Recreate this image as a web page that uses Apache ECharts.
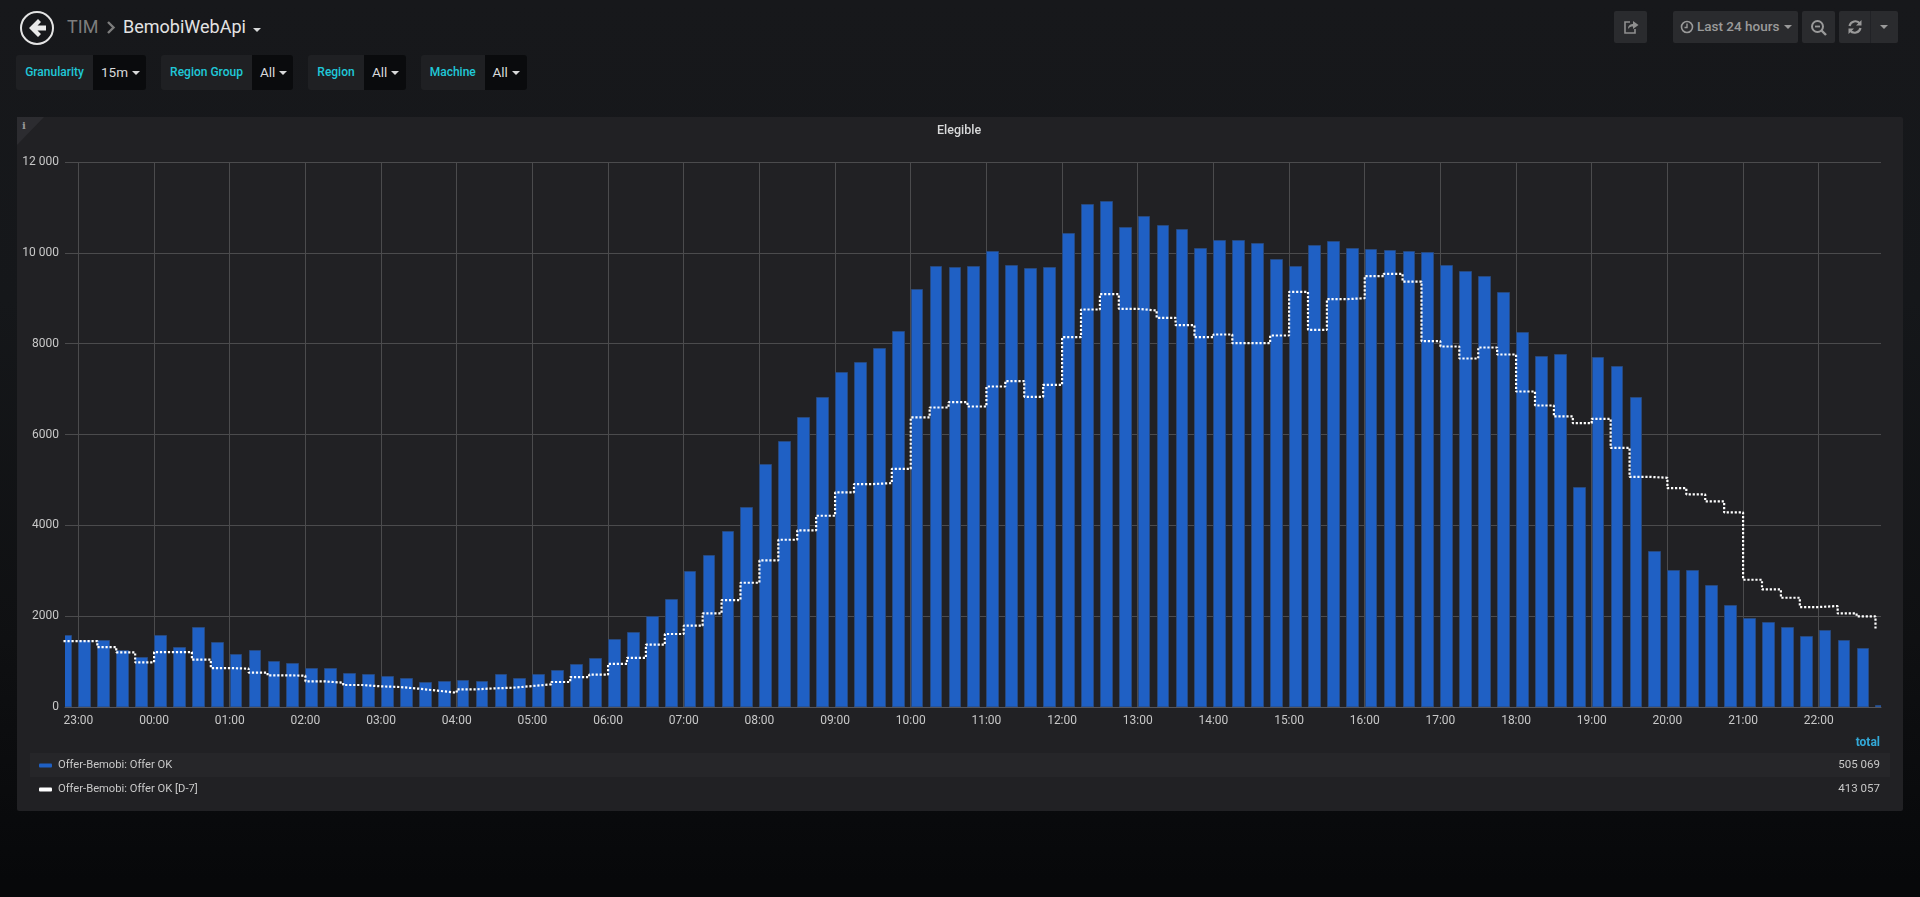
<!DOCTYPE html>
<html>
<head>
<meta charset="utf-8">
<title>Elegible</title>
<script src="https://cdn.jsdelivr.net/npm/echarts@6/dist/echarts.min.js"></script>
<style>
html,body{margin:0;padding:0;width:1920px;height:897px;overflow:hidden;font-family:Roboto,sans-serif;
background:linear-gradient(180deg,#17181b 0,#15171a 300px,#0f1012 640px,#07080a 880px);}
.abs{position:absolute;box-sizing:border-box;white-space:nowrap;}
#panel{left:17px;top:117px;width:1886px;height:694px;background:#212124;border-radius:2px;}
#corner{left:17px;top:117px;width:27px;height:28px;background:#2c2c30;clip-path:polygon(0 0,100% 0,0 100%);}
#info{left:22px;top:120px;width:8px;font:bold 10px "DejaVu Serif",serif;color:#9a9a9a;}
#stripe{left:30px;top:753px;width:1860px;height:24px;background:#262629;}
#chart{left:0;top:0;width:1920px;height:897px;}
.crumb{font-size:18px;top:15px;line-height:24px;}
.lab{top:55px;height:34.5px;background:#1f2023;color:#1fc8d8;font-weight:500;font-size:12px;line-height:34px;text-align:center;border-radius:3px 0 0 3px;}
.val{top:55px;height:34.5px;background:#0a0b0d;color:#d8d9da;font-size:13.5px;line-height:35px;padding-left:8px;border-radius:0 3px 3px 0;}
.caret{display:inline-block;width:0;height:0;border-left:4px solid transparent;border-right:4px solid transparent;border-top:4px solid #d8d9da;margin-left:4px;vertical-align:2px;}
.btn{top:11px;height:32px;background:#2a2b2e;border-radius:2px;color:#9a9a9a;}
.btn svg{position:absolute;}
</style>
</head>
<body>
<div class="abs" id="panel"></div>
<div class="abs" id="corner"></div>
<div class="abs" id="info">i</div>
<div class="abs" id="stripe"></div>

<svg class="abs" style="left:18px;top:9px" width="38" height="38" viewBox="0 0 38 38">
  <circle cx="19" cy="19" r="16" fill="none" stroke="#e4e4e4" stroke-width="2"/>
  <path d="M20 10 L11 19 L20 28 L23 25 L19.5 21.5 L28 21.5 L28 16.5 L19.5 16.5 L23 13 Z" fill="#e9e9e9"/>
</svg>
<div class="abs crumb" style="left:67px;color:#7d7d7d">TIM</div>
<svg class="abs" style="left:106px;top:20px" width="10" height="15" viewBox="0 0 10 15"><path d="M2 2 L7.5 7.5 L2 13" fill="none" stroke="#7d7d7d" stroke-width="2.4"/></svg>
<div class="abs crumb" style="left:123px;color:#e3e3e3">BemobiWebApi</div>
<div class="abs" style="left:253px;top:28px;width:0;height:0;border-left:4px solid transparent;border-right:4px solid transparent;border-top:4px solid #d8d9da"></div>

<div class="abs lab" style="left:16px;width:77px">Granularity</div>
<div class="abs val" style="left:93px;width:52.5px">15m<span class="caret"></span></div>
<div class="abs lab" style="left:161px;width:91px">Region Group</div>
<div class="abs val" style="left:252px;width:40.5px">All<span class="caret"></span></div>
<div class="abs lab" style="left:308px;width:56px">Region</div>
<div class="abs val" style="left:364px;width:41.5px">All<span class="caret"></span></div>
<div class="abs lab" style="left:421px;width:63.5px">Machine</div>
<div class="abs val" style="left:484.5px;width:42px">All<span class="caret"></span></div>

<div class="abs btn" style="left:1614px;width:33px">
  <svg style="left:8px;top:7px" width="18" height="18" viewBox="0 0 18 18"><path d="M8 4 H3 V15 H13 V11" fill="none" stroke="#8f8f8f" stroke-width="1.6"/><path d="M6 11 C6 7 9 6 11 6 V3 L16.500 7 L11 11 V8.500 C9 8.500 7.500 9 6 11 Z" fill="#8f8f8f"/></svg>
</div>
<div class="abs btn" style="left:1673px;width:125px;font-size:13.5px;font-weight:500;line-height:31px;padding-left:24px">
  <svg style="left:7px;top:9px" width="14" height="14" viewBox="0 0 14 14"><circle cx="7" cy="7" r="5.500" fill="none" stroke="#9a9a9a" stroke-width="1.600"/><path d="M7 3.500 V7.500 H4.500" fill="none" stroke="#9a9a9a" stroke-width="1.400"/></svg>
  Last 24 hours<span class="caret" style="border-top-color:#9a9a9a;margin-left:5px"></span>
</div>
<div class="abs btn" style="left:1802px;width:33px">
  <svg style="left:8px;top:8px" width="18" height="18" viewBox="0 0 18 18"><circle cx="7.500" cy="7.500" r="5.500" fill="none" stroke="#9a9a9a" stroke-width="2"/><path d="M11.500 11.500 L16 16" stroke="#9a9a9a" stroke-width="2.400"/><path d="M5 7.500 H10" stroke="#9a9a9a" stroke-width="1.800"/></svg>
</div>
<div class="abs btn" style="left:1839px;width:59px">
  <svg style="left:8px;top:8px" width="16" height="16" viewBox="0 0 16 16"><path d="M2.500 7 A6 6 0 0 1 13 4.500 M13.500 9 A6 6 0 0 1 3 11.500" fill="none" stroke="#9a9a9a" stroke-width="2.200"/><path d="M14.500 1 V6.500 H9 Z M1.500 15 V9.500 H7 Z" fill="#9a9a9a"/></svg>
  <div class="abs" style="left:31px;top:0;width:1px;height:32px;background:#212226"></div>
  <div class="abs" style="left:41px;top:14px;width:0;height:0;border-left:4px solid transparent;border-right:4px solid transparent;border-top:4px solid #9a9a9a"></div>
</div>

<div class="abs" id="chart"></div>

<script>
// Values: one sample per 15 minutes, from 22:45 to 22:45 the next day
const barValues = [
  1585,1482,1480,1262,1093,1585,1320,1753,1430,1174,1254,1012,976,851,851,756,734,690,631,558,572,594,580,726,646,719,807,946,1075,1504,
  1658,2003,2384,3000,3345,3873,4402,5355,5854,6392,6822,7373,7593,7908,8268,9199,9713,9684,9706,10036,9742,9669,9684,10432,11070,11151,10564,10813,10623,10520,
  10102,10278,10278,10212,9860,9713,10175,10256,10102,10080,10058,10036,10021,9742,9603,9500,9133,8253,7725,7769,4834,7706,7519,6822,3433,3022,3015,2678,2245,1966,
  1871,1761,1555,1695,1482,1298,44
];
const lineValues = [
  1452,1452,1320,1203,983,1210,1210,1042,858,844,756,697,690,565,535,484,455,440,403,359,315,389,411,425,462,499,550,660,712,950,
  1082,1372,1607,1790,2061,2355,2736,3228,3683,3888,4211,4724,4908,4930,5245,6375,6595,6712,6617,7057,7175,6830,7094,8143,8752,9089,8767,8730,8568,8407,
  8143,8202,8011,8011,8180,9141,8304,8979,9001,9485,9537,9368,8055,7938,7673,7916,7761,6947,6639,6397,6250,6346,5707,5069,5047,4820,4680,4526,4284,2802,
  2590,2406,2201,2223,2061,1995,1731
];
const totals = ['505 069','413 057'];
const seriesNames = ['Offer-Bemobi: Offer OK','Offer-Bemobi: Offer OK [D-7]'];
const yTicks = {0:'0',2000:'2000',4000:'4000',6000:'6000',8000:'8000',10000:'10 000',12000:'12 000'};

const STEP_MS = 15*60000;
const BAR_SPAN_MS = 10.07*60000;        // each bar starts at its timestamp and covers about 2/3 of the step
const START_MS = new Date(2021,0,10,22,45,0).getTime();
const AXIS_MIN = START_MS + 4*60000 + 22000;
const AXIS_MAX = AXIS_MIN + 24*3600000;

const timeAt = i => START_MS + i*STEP_MS;
const barData = barValues.map((v,i)=>[timeAt(i), v]);
const lineData = lineValues.map((v,i)=>[timeAt(i), v]);

function renderBar(params, api){
  const t = api.value(0), v = api.value(1);
  const base = api.coord([t, 0]);
  const top = api.coord([t + BAR_SPAN_MS, v]);
  const x0 = Math.round(base[0]) + 0.5, x1 = Math.round(top[0]) - 0.5;
  const y0 = Math.round(top[1]) + 0.5;
  return {type:'rect',
    shape:{x:x0, y:y0, width:x1-x0, height:Math.round(base[1])-y0},
    style:api.style()};
}

const TEXT = '#c8c8c8';
const GRID = '#4b4b4d';
const chart = echarts.init(document.getElementById('chart'), null, {renderer:'canvas'});
chart.setOption({
  animation:false,
  backgroundColor:'transparent',
  textStyle:{fontFamily:'Roboto'},
  title:{text:'Elegible',left:932,top:119,
    textStyle:{color:'#d8d9da',fontSize:12.5,fontWeight:500,fontFamily:'Roboto'}},
  grid:{left:65,right:39,top:162,height:545,containLabel:false},
  legend:{
    left:39,top:760,padding:0,orient:'vertical',itemWidth:13,itemHeight:4,itemGap:13,selectedMode:false,
    textStyle:{color:'#c8c8c8',fontSize:11.2,fontFamily:'Roboto',padding:[0,0,0,1]},
    data:[
      {name:seriesNames[0],icon:'roundRect',itemStyle:{color:'#1f60c4',borderWidth:0}},
      {name:seriesNames[1],icon:'roundRect',itemStyle:{color:'#ffffff',borderWidth:0}}
    ]
  },
  xAxis:{
    type:'time',min:AXIS_MIN,max:AXIS_MAX,minInterval:3600000,maxInterval:3600000,
    axisLine:{show:true,lineStyle:{color:'#55555a',width:1}},
    axisTick:{show:false},
    axisLabel:{color:TEXT,fontSize:12,margin:8,fontFamily:'Roboto',showMinLabel:false,showMaxLabel:false,
      formatter:v=>{const d=new Date(v);return String(d.getHours()).padStart(2,'0')+':'+String(d.getMinutes()).padStart(2,'0');}},
    splitLine:{show:true,showMinLine:false,showMaxLine:false,lineStyle:{color:GRID,width:1}}
  },
  yAxis:{
    type:'value',min:0,max:12000,interval:2000,
    axisLine:{show:false},axisTick:{show:false},
    axisLabel:{color:TEXT,fontSize:12,margin:6,fontFamily:'Roboto',formatter:v=>yTicks[v]},
    splitLine:{show:true,lineStyle:{color:GRID,width:1}}
  },
  series:[
    {name:seriesNames[0],type:'custom',data:barData,renderItem:renderBar,clip:true,encode:{x:0,y:1},
     itemStyle:{color:'#1f60c4',borderColor:'#27497f',borderWidth:1},z:2},
    {name:seriesNames[1],type:'line',data:lineData,step:'end',showSymbol:false,symbol:'none',clip:true,
     lineStyle:{color:'#ffffff',width:2.2,type:[2.2,1.8]},itemStyle:{color:'#ffffff'},z:3}
  ],
  graphic:[
    {type:'text',right:40,top:737,style:{text:'total',fill:'#33a9d8',font:'bold 12px Roboto',textAlign:'right'}},
    {type:'text',right:40,top:759,style:{text:totals[0],fill:TEXT,font:'11.5px Roboto',textAlign:'right'}},
    {type:'text',right:40,top:783,style:{text:totals[1],fill:TEXT,font:'11.5px Roboto',textAlign:'right'}}
  ]
});
</script>
</body>
</html>
